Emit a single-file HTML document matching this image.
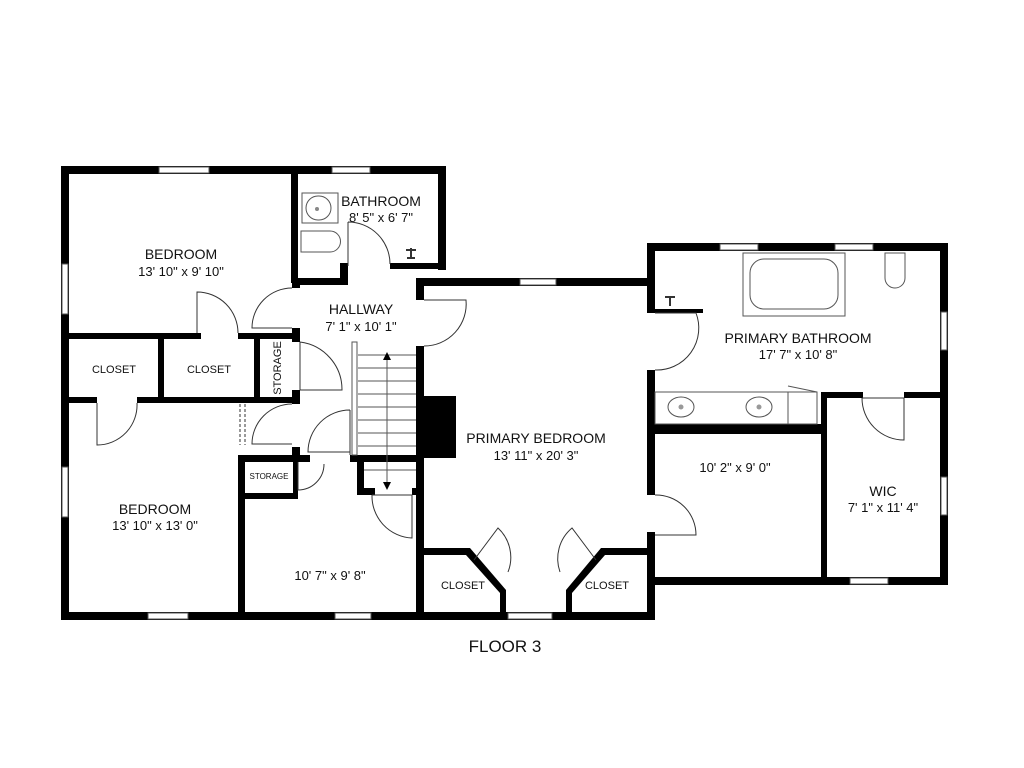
<!DOCTYPE html>
<html><head><meta charset="utf-8"><style>
html,body{margin:0;padding:0;background:#fff;width:1024px;height:768px;overflow:hidden}
svg{display:block}
text{font-family:"Liberation Sans","DejaVu Sans",sans-serif;fill:#111;text-anchor:middle}
</style></head><body>
<svg width="1024" height="768" viewBox="0 0 1024 768">
<g fill="#000">
<rect x="61" y="166" width="385" height="8"/>
<rect x="61" y="166" width="8" height="454"/>
<rect x="61" y="612" width="594" height="8"/>
<rect x="438" y="166" width="8" height="104"/>
<rect x="291" y="166" width="7" height="117"/>
<rect x="298" y="278" width="48" height="7"/>
<rect x="340" y="263" width="8" height="22"/>
<rect x="390" y="263" width="50" height="6"/>
<rect x="61" y="333" width="140" height="6"/>
<rect x="238" y="333" width="62" height="6"/>
<rect x="61" y="397" width="36" height="6"/>
<rect x="137" y="397" width="163" height="6"/>
<rect x="158" y="339" width="6" height="60"/>
<rect x="254" y="339" width="6" height="60"/>
<rect x="292" y="283" width="8" height="5"/>
<rect x="292" y="328" width="8" height="14"/>
<rect x="292" y="390" width="8" height="14"/>
<rect x="292" y="447" width="8" height="14"/>
<rect x="238" y="455" width="7" height="165"/>
<rect x="238" y="455" width="72" height="7"/>
<rect x="350" y="455" width="66" height="7"/>
<rect x="238" y="493" width="60" height="6"/>
<rect x="293" y="455" width="5" height="44"/>
<rect x="357" y="455" width="7" height="40"/>
<rect x="357" y="488" width="18" height="7"/>
<rect x="412" y="488" width="12" height="7"/>
<rect x="416" y="278" width="239" height="8"/>
<rect x="416" y="278" width="8" height="22"/>
<rect x="416" y="346" width="8" height="274"/>
<rect x="424" y="396" width="32" height="62"/>
<rect x="647" y="243" width="8" height="70"/>
<rect x="647" y="370" width="8" height="125"/>
<rect x="647" y="532" width="8" height="88"/>
<polygon points="424,548 470,548 506,590 506,620 500,620 500,593 466,555 424,555"/>
<polygon points="647,548 601,548 566,590 566,620 572,620 572,593 605,555 647,555"/>
<rect x="647" y="243" width="301" height="8"/>
<rect x="940" y="243" width="8" height="342"/>
<rect x="647" y="577" width="301" height="8"/>
<rect x="655" y="424" width="167" height="10"/>
<rect x="821" y="392" width="6" height="190"/>
<rect x="821" y="392" width="42" height="6"/>
<rect x="904" y="392" width="44" height="6"/>
<rect x="655" y="309" width="48" height="4"/>
</g>
<g fill="#fff" stroke="#555" stroke-width="1">
<rect x="159" y="167" width="50" height="6"/>
<rect x="332" y="167" width="38" height="6"/>
<rect x="62" y="264" width="6" height="50"/>
<rect x="62" y="467" width="6" height="50"/>
<rect x="148" y="613" width="40" height="6"/>
<rect x="335" y="613" width="36" height="6"/>
<rect x="508" y="613" width="44" height="6"/>
<rect x="520" y="279" width="36" height="6"/>
<rect x="720" y="244" width="38" height="6"/>
<rect x="835" y="244" width="38" height="6"/>
<rect x="941" y="312" width="6" height="38"/>
<rect x="941" y="477" width="6" height="38"/>
<rect x="850" y="578" width="38" height="6"/>
</g>
<g fill="none" stroke="#333" stroke-width="1">
<path d="M348 222 L348 266 M348 222 A42 42 0 0 1 390 264"/>
<path d="M197 333 L197 292 A41 41 0 0 1 238 333"/>
<path d="M292 288 A40 40 0 0 0 252 328 L292 328"/>
<path d="M300 342 L300 390 M300 342 A48 48 0 0 1 342 390 L300 390"/>
<path d="M97 403 L97 445 A40 40 0 0 0 137 403"/>
<path d="M292 404 A40 40 0 0 0 252 444 L292 444"/>
<path d="M350 410 L350 455 M350 410 A42 42 0 0 0 308 452 L350 452"/>
<path d="M298 462 L298 490 A26 26 0 0 0 324 464"/>
<path d="M372 495 L412 495 L412 538 A42 42 0 0 1 372 495"/>
<path d="M424 300 L466 300 A42 42 0 0 1 424 346"/>
<path d="M655 313 L696 313 A42 42 0 0 1 655 370"/>
<path d="M655 495 A40 40 0 0 1 696 535 L655 535"/>
<path d="M862 398 L904 398 L904 440 A42 42 0 0 1 862 398"/>
<path d="M474 560 L498 528 A40 40 0 0 1 508 572"/>
<path d="M596 560 L572 528 A40 40 0 0 0 560 572"/>
<path d="M240 404 L240 445 M245 404 L245 445" stroke-dasharray="3 2"/>
</g>
<g stroke="#555" stroke-width="1" fill="none">
<rect x="352" y="342" width="5" height="113"/>
<path d="M358 355 H416 M358 368 H416 M358 381 H416 M358 394 H416 M358 407 H416 M358 420 H416 M358 433 H416 M358 446 H416 M364 470 H416 M387 355 V485"/>
</g>
<polygon points="387,352 383,360 391,360" fill="#000"/>
<polygon points="387,490 383,482 391,482" fill="#000"/>
<g fill="none" stroke="#555" stroke-width="1">
<rect x="302" y="193" width="36" height="30"/>
<rect x="306" y="196" width="25" height="24" rx="12"/>
<path d="M301 231 H330 A10 10 0 0 1 330 252 H301 Z"/>
<rect x="743" y="253" width="102" height="63"/>
<rect x="750" y="259" width="88" height="50" rx="14"/>
<path d="M885 253 H905 V278 A10 10 0 0 1 885 278 Z"/>
<rect x="655" y="392" width="162" height="32"/>
<path d="M788 392 V424 M788 386 L817 392"/>
<ellipse cx="681" cy="407" rx="13" ry="10"/>
<ellipse cx="759" cy="407" rx="13" ry="10"/>
</g>
<circle cx="317" cy="209" r="2" fill="#888"/>
<circle cx="681" cy="407" r="2.5" fill="#999"/>
<circle cx="759" cy="407" r="2.5" fill="#999"/>
<path d="M407 258 h8 M411 248 v10 M406 250 l10 0" stroke="#333" stroke-width="2"/>
<path d="M670 306 v-8 M665 297 l10 0" stroke="#333" stroke-width="2"/>
<text x="181" y="259" font-size="14">BEDROOM</text>
<text x="181" y="276" font-size="13">13' 10" x 9' 10"</text>
<text x="381" y="206" font-size="14">BATHROOM</text>
<text x="381" y="222" font-size="13">8' 5" x 6' 7"</text>
<text x="361" y="314" font-size="14">HALLWAY</text>
<text x="361" y="331" font-size="13">7' 1" x 10' 1"</text>
<text x="114" y="373" font-size="11">CLOSET</text>
<text x="209" y="373" font-size="11">CLOSET</text>
<text x="281" y="368" font-size="11" transform="rotate(-90 281 368)">STORAGE</text>
<text x="269" y="479" font-size="8">STORAGE</text>
<text x="155" y="514" font-size="14">BEDROOM</text>
<text x="155" y="530" font-size="13">13' 10" x 13' 0"</text>
<text x="330" y="580" font-size="13">10' 7" x 9' 8"</text>
<text x="536" y="443" font-size="14">PRIMARY BEDROOM</text>
<text x="536" y="460" font-size="13">13' 11" x 20' 3"</text>
<text x="463" y="589" font-size="11">CLOSET</text>
<text x="607" y="589" font-size="11">CLOSET</text>
<text x="798" y="343" font-size="14">PRIMARY BATHROOM</text>
<text x="798" y="359" font-size="13">17' 7" x 10' 8"</text>
<text x="735" y="472" font-size="13">10' 2" x 9' 0"</text>
<text x="883" y="496" font-size="14">WIC</text>
<text x="883" y="512" font-size="13">7' 1" x 11' 4"</text>
<text x="505" y="652" font-size="17">FLOOR 3</text>
</svg>
</body></html>
